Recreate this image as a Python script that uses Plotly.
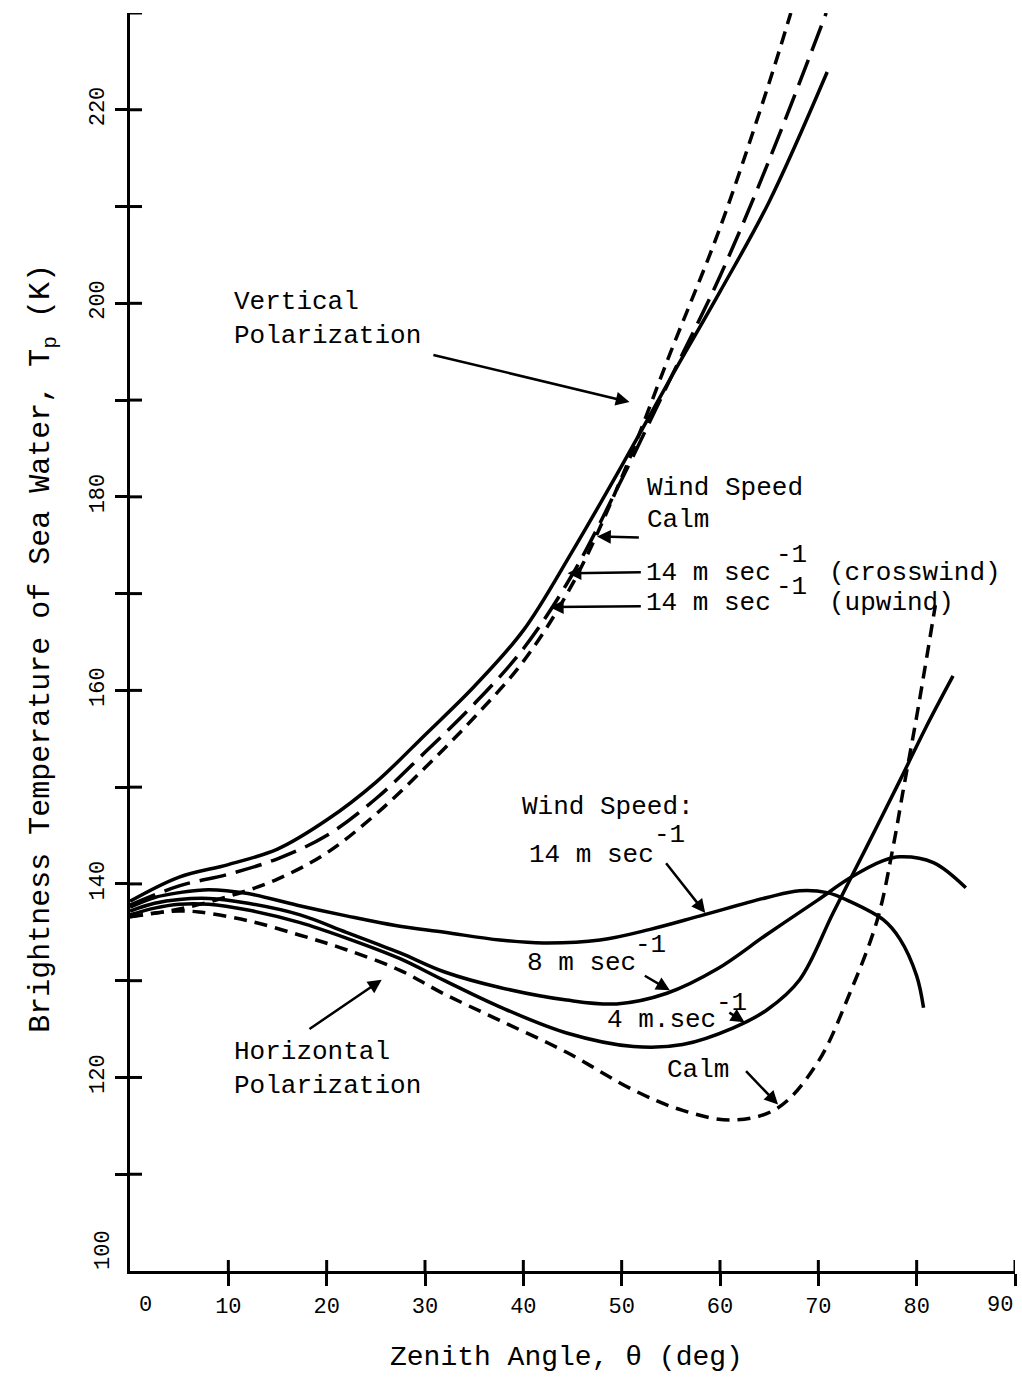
import plotly.graph_objects as go

# Zenith angle (deg) and brightness temperature (K) for each curve
v_calm_theta = [0, 5, 10, 15, 20, 25, 30, 35, 40, 45, 50, 55, 60, 65, 67.2]
v_calm_tb = [136.6, 137.4, 138.7, 140.5, 143.2, 147.2, 152.0, 157.2, 163.0, 171.0, 182.0, 195.0, 207.8, 222.8, 230.0]

v_cross_theta = [0, 5, 10, 15, 20, 25, 30, 35, 40, 45, 50, 55, 60, 65, 70.8]
v_cross_tb = [137.8, 139.8, 141.0, 142.6, 145.0, 148.8, 153.6, 158.6, 164.3, 172.0, 181.8, 192.3, 202.8, 214.8, 230.0]

v_up_theta = [0, 5, 10, 15, 20, 25, 30, 35, 40, 45, 50, 55, 60, 65, 70.9]
v_up_tb = [138.2, 140.7, 142.0, 143.6, 146.6, 150.5, 155.4, 160.4, 166.2, 174.4, 183.2, 192.3, 201.2, 210.5, 223.9]

h14_theta = [0, 2.5, 5, 8, 12, 17, 22, 27, 32, 37.6, 42, 47.8, 52.9, 58, 64.8, 68.1, 70.9, 73.2, 76.6, 78.3, 80, 80.7]
h14_tb = [137.6, 138.6, 139.1, 139.4, 139.0, 137.8, 136.7, 135.7, 135.0, 134.2, 133.9, 134.2, 135.3, 136.7, 138.6, 139.3, 139.1, 138.2, 136.3, 134.3, 130.5, 127.2]

h8_theta = [0, 2.5, 5, 8, 12, 17.3, 22, 27.4, 32, 37.6, 44.4, 49.5, 54.6, 59.7, 64.8, 69.9, 73.2, 76.6, 78.3, 81.7, 85]
h8_tb = [137.2, 138.0, 138.4, 138.5, 138.0, 136.8, 135.0, 132.9, 130.9, 129.3, 128.0, 127.6, 128.7, 131.2, 134.8, 138.3, 140.6, 142.4, 142.8, 142.2, 139.6]

h4_theta = [0, 2.5, 5, 8, 12, 17.3, 22, 27.4, 32, 37.6, 44.4, 51.2, 56.2, 61.3, 64.8, 68.1, 71.5, 74.9, 78.3, 81, 83.7]
h4_tb = [136.8, 137.5, 137.9, 137.9, 137.3, 136.0, 134.4, 132.3, 130.0, 127.3, 124.6, 123.2, 123.4, 125.1, 127.0, 130.1, 137.0, 143.8, 150.7, 156.3, 161.5]

h_calm_theta = [0, 2.5, 5, 7, 12, 17.3, 22, 27.4, 32, 37.6, 44.4, 51.2, 56.2, 61.3, 65.8, 69.9, 73.2, 76, 77.6, 78.6, 80, 81.9]
h_calm_tb = [136.6, 137.0, 137.2, 137.1, 136.2, 134.7, 133.2, 131.1, 128.6, 125.9, 122.6, 118.7, 116.6, 115.6, 116.8, 121.5, 128.7, 136.3, 143.8, 149.5, 157.3, 168.8]

x_ticks = [10, 20, 30, 40, 50, 60, 70, 80, 90]
x_tick_text = ["10", "20", "30", "40", "50", "60", "70", "80", ""]
y_ticks = [110, 120, 130, 140, 150, 160, 170, 180, 190, 200, 210, 220]
y_tick_text = ["", "120", "", "140", "", "160", "", "180", "", "200", "", "220"]
y_inner_ticks = y_ticks + [230]

FONT = "Liberation Mono"
SHORT_DASH = "13px,8px"
LONG_DASH = "27px,10px"

fig = go.Figure()

curves = [
    (v_up_theta, v_up_tb, "solid"),
    (v_cross_theta, v_cross_tb, LONG_DASH),
    (v_calm_theta, v_calm_tb, SHORT_DASH),
    (h14_theta, h14_tb, "solid"),
    (h8_theta, h8_tb, "solid"),
    (h4_theta, h4_tb, "solid"),
    (h_calm_theta, h_calm_tb, SHORT_DASH),
]
for th, tb, dash in curves:
    fig.add_trace(go.Scatter(
        x=th, y=tb, mode="lines",
        line=dict(color="black", width=3.5, dash=dash, shape="spline", smoothing=1.0),
        showlegend=False, hoverinfo="skip",
    ))

# inner half of the crossing tick marks
shapes = []
for xv in x_ticks:
    shapes.append(dict(type="line", xref="x", yref="y", ysizemode="pixel", yanchor=100,
                       x0=xv, x1=xv, y0=0, y1=11, line=dict(color="black", width=3)))
for yv in y_inner_ticks:
    shapes.append(dict(type="line", xref="x", yref="y", xsizemode="pixel", xanchor=0,
                       x0=0, x1=12, y0=yv, y1=yv, line=dict(color="black", width=3)))

annotations = []


def label(x, y, text, size=26, anchor="left"):
    annotations.append(dict(x=x, y=y, xref="x", yref="y", text=text, showarrow=False,
                            xanchor=anchor, yanchor="middle", align="left",
                            font=dict(family=FONT, size=size, color="black")))


def arrow(x, y, ax, ay):
    annotations.append(dict(x=x, y=y, ax=ax, ay=ay, xref="x", yref="y", axref="x", ayref="y",
                            text="", showarrow=True, arrowhead=2, arrowsize=1.1,
                            arrowwidth=2.5, arrowcolor="black"))


# vertical polarization group
label(10.4, 198.4, "Vertical<br>Polarization")
arrow(50.8, 189.8, 30.7, 194.7)
label(52.4, 180.9, "Wind Speed")
label(52.4, 177.6, "Calm")
label(52.3, 172.1, "14 m sec")
label(67.3, 174.0, "-1", anchor="center")
label(70.9, 172.1, "(crosswind)")
label(52.3, 169.0, "14 m sec")
label(67.3, 170.7, "-1", anchor="center")
label(70.9, 169.0, "(upwind)")
arrow(47.5, 175.9, 51.9, 175.8)
arrow(44.5, 172.1, 52.1, 172.2)
arrow(42.7, 168.6, 52.1, 168.7)

# horizontal polarization group
label(39.7, 147.9, "Wind Speed:")
label(40.4, 143.0, "14 m sec")
label(54.9, 145.1, "-1", anchor="center")
arrow(58.5, 137.0, 54.4, 142.3)
label(40.2, 131.8, "8 m sec")
label(52.9, 133.7, "-1", anchor="center")
arrow(54.9, 129.0, 52.2, 130.6)
label(48.3, 125.9, "4 m.sec")
label(61.2, 127.7, "-1", anchor="center")
arrow(62.5, 125.7, 60.8, 126.8)
label(54.4, 120.8, "Calm")
arrow(65.9, 117.2, 62.5, 120.8)
label(10.4, 120.85, "Horizontal<br>Polarization")
arrow(25.6, 130.1, 18.1, 124.9)

# tick labels at the plot corners
tick_font = dict(family=FONT, size=22, color="black")
annotations.append(dict(x=0, y=100, xref="x", yref="y", text="0", showarrow=False,
                        xshift=15, yshift=-34, font=tick_font))
annotations.append(dict(x=90, y=100, xref="x", yref="y", text="90", showarrow=False,
                        xshift=-15, yshift=-34, font=tick_font))
annotations.append(dict(x=0, y=100, xref="x", yref="y", text="100", showarrow=False,
                        textangle=-90, xshift=-27, yshift=21, font=tick_font))

# axis titles
annotations.append(dict(x=-0.122, y=0.495, xref="paper", yref="paper", showarrow=False,
                        text="Brightness Temperature of Sea Water, T<sub>p</sub> (K)",
                        textangle=-90, font=dict(family=FONT, size=30, color="black")))
annotations.append(dict(x=0.493, y=-0.0827, xref="paper", yref="paper", showarrow=False,
                        text="Zenith Angle, \u03b8 (deg)",
                        font=dict(family=FONT, size=28, color="black")))

fig.update_layout(
    width=1022, height=1393,
    margin=dict(l=130, r=7, t=13, b=122, autoexpand=False),
    paper_bgcolor="white", plot_bgcolor="white",
    shapes=shapes, annotations=annotations,
    xaxis=dict(range=[0, 90], showgrid=False, zeroline=False, showline=True,
               linecolor="black", linewidth=3, ticks="outside", ticklen=12, tickwidth=3,
               tickcolor="black", tickvals=x_ticks, ticktext=x_tick_text,
               tickfont=tick_font, ticklabelstandoff=1),
    yaxis=dict(range=[100, 230], showgrid=False, zeroline=False, showline=True,
               linecolor="black", linewidth=3, ticks="outside", ticklen=12, tickwidth=3,
               tickcolor="black", tickvals=y_ticks, ticktext=y_tick_text,
               tickangle=-90, tickfont=tick_font, ticklabelstandoff=2),
)

fig.write_html("out.html")
